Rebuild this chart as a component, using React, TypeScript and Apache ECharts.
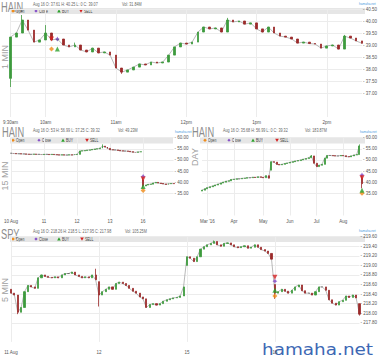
import React, { useEffect, useRef } from 'react';
import * as echarts from 'echarts';

const FONT = 'Liberation Sans, Arial, sans-serif';
const AXFONT = 'Liberation Sans Narrow, Liberation Sans, Arial, sans-serif';

// ---------- Panel 1: HAIN 1 MIN (read every ~5 minutes) ----------
const hain1TickIdx = [0, 6, 18, 30, 42, 54];
const hain1TickText = ['9:30am', '10am', '11am', '12pm', '1pm', '2pm'];
const hain1YTicks = [37, 37.5, 38, 38.5, 39, 39.5, 40, 40.5];
const hain1Close = [
  39.33, 39.5, 40.04, 39.62, 39.12, 39.21, 39.5, 39.21, 39.25, 39.0,
  38.92, 39.0, 38.79, 38.71, 38.87, 38.67, 38.71, 38.58, 38.04, 37.87,
  37.96, 38.08, 38.21, 38.17, 38.29, 38.25, 38.29, 38.58, 38.92, 39.08,
  39.04, 39.12, 39.54, 39.75, 39.67, 39.71, 39.54, 40.04, 39.96, 40.0,
  39.87, 39.92, 39.67, 39.54, 39.75, 39.5, 39.37, 39.33, 39.25, 39.08,
  39.12, 39.06, 39.04, 38.87, 38.96, 39.0, 38.83, 39.37, 39.29, 39.17,
  39.07,
];
const hain1Open: Record<number, number> = { 0: 37.61 };
const hain1High: Record<number, number> = { 2: 40.25, 6: 39.83, 11: 39.1, 37: 40.13, 57: 39.42 };
const hain1Low: Record<number, number> = { 0: 37.25, 19: 37.8 };
const hain1Breaks: number[] = [];
const hain1MarkOpen = [[7, 38.83]];
const hain1MarkClose = [[8, 39.25]];
const hain1MarkBuy = [[8, 38.83]];
const hain1MarkSell = [[7, 39.25]];

// ---------- Panel 2: HAIN 15 MIN ----------
const hain15TickIdx = [0, 13, 26, 39, 52];
const hain15TickText = ['10 Aug', '11', '12', '13', '16'];
const hain15YTicks = [35, 40, 45, 50, 55, 60];
const hain15Close = [
  53.0, 52.9, 52.8, 52.8, 52.7, 52.7, 52.6, 52.5, 52.5, 52.6,
  52.5, 52.5, 52.4, 52.5, 52.5, 52.4, 52.5, 52.4, 52.3, 52.2,
  52.3, 52.2, 52.2, 52.3, 52.2, 52.4, 52.5, 54.0, 54.1, 54.2,
  54.4, 54.5, 54.7, 54.9, 55.0, 55.3, 56.2, 55.8, 55.2, 54.6,
  54.5, 54.5, 54.3, 54.1, 54.0, 54.0, 53.9, 53.7, 53.5, 53.4,
  53.6, 53.7, 38.3, 38.7, 39.0, 39.1, 39.6, 39.9, 39.6, 39.4,
  39.2, 39.0, 39.3, 39.4, 39.32,
];
const hain15Open: Record<number, number> = { 0: 53.0, 52: 41.0 };
const hain15High: Record<number, number> = { 36: 56.99, 52: 42.0 };
const hain15Low: Record<number, number> = { 52: 37.25 };
const hain15Breaks = [52];
const hain15MarkOpen = [[52, 36.3]];
const hain15MarkClose = [[52, 42.6]];
const hain15MarkBuy = [[52, 38.1]];
const hain15MarkSell = [[52, 41.4]];

// ---------- Panel 3: HAIN DAY ----------
const hainDayTickIdx = [2, 12, 23, 33, 43, 53];
const hainDayTickText = ["Mar '16", 'Apr', 'May', 'Jun', 'Jul', 'Aug'];
const hainDayYTicks = [35, 40, 45, 50, 55, 60];
const hainDayClose = [
  36.4, 37.0, 37.5, 37.9, 38.3, 38.7, 39.1, 39.6, 40.0, 40.4,
  40.6, 41.2, 41.3, 41.5, 41.5, 41.7, 41.8, 42.0, 42.0, 42.2,
  42.1, 42.4, 42.2, 42.0, 42.9, 41.8, 49.2, 49.0, 48.0, 47.8,
  48.0, 48.4, 48.6, 48.9, 49.2, 49.5, 49.7, 50.0, 50.3, 50.6,
  51.0, 51.8, 48.5, 47.0, 47.6, 48.0, 50.8, 52.0, 52.0, 51.9,
  51.8, 51.8, 52.0, 51.9, 51.5, 51.4, 51.8, 52.2, 52.4, 56.3,
  39.32,
];
const hainDayOpen: Record<number, number> = { 0: 36.0, 26: 45.4, 60: 42.0 };
const hainDayHigh: Record<number, number> = { 41: 52.2, 59: 56.99, 60: 43.0 };
const hainDayLow: Record<number, number> = { 60: 37.25 };
const hainDayBreaks = [60];
const hainDayMarkOpen = [[60, 35.0]];
const hainDayMarkClose = [[60, 43.2]];
const hainDayMarkBuy = [[60, 36.4]];
const hainDayMarkSell = [[60, 42.0]];

// ---------- Panel 4: SPY 5 MIN (read every ~15 minutes) ----------
const spyTickIdx = [0, 26, 52, 78];
const spyTickText = ['11 Aug', '12', '15', '16'];
const spyYTicks = [217.8, 218.0, 218.2, 218.4, 218.6, 218.8, 219.0, 219.2, 219.4, 219.6];
const spyClose = [
  218.42, 218.38, 218.02, 218.12, 218.45, 218.58, 218.55, 218.52, 218.74, 218.8,
  218.77, 218.75, 218.74, 218.76, 218.74, 218.8, 218.83, 218.83, 218.86, 218.8,
  218.77, 218.74, 218.76, 218.74, 218.8, 218.7,
  218.38, 218.45, 218.5, 218.55, 218.5, 218.62, 218.65, 218.62, 218.58, 218.52,
  218.46, 218.42, 218.34, 218.3, 218.12, 218.18, 218.2, 218.17, 218.2, 218.25,
  218.28, 218.3, 218.32, 218.33, 218.36, 218.55,
  219.18, 219.15, 219.08, 219.18, 219.34, 219.39, 219.43, 219.46, 219.5, 219.43,
  219.4, 219.46, 219.47, 219.43, 219.39, 219.37, 219.39, 219.41, 219.36, 219.38,
  219.43, 219.38, 219.33, 219.3, 219.25, 219.13,
  218.42, 218.45, 218.5, 218.46, 218.42, 218.48, 218.55, 218.59, 218.47, 218.42,
  218.42, 218.38, 218.45, 218.55, 218.55, 218.48, 218.28, 218.21, 218.17, 218.24,
  218.27, 218.36, 218.33, 218.38, 218.32, 217.98,
];
const spyOpen: Record<number, number> = { 0: 218.5, 26: 218.66, 52: 219.0, 78: 218.6, 103: 218.2 };
const spyHigh: Record<number, number> = { 25: 218.93, 60: 219.52 };
const spyLow: Record<number, number> = { 2: 217.98, 26: 218.14, 78: 218.3, 103: 217.95 };
const spyBreaks: number[] = [];
const spyMarkOpen = [[78, 218.36]];
const spyMarkClose = [[78, 218.67]];
const spyMarkBuy = [[78, 218.48]];
const spyMarkSell = [[78, 218.75]];

// ---------- Texts ----------
const titles = ['HAIN', 'HAIN', 'HAIN', 'SPY'];
const headers = [
  'Aug 16 O: 37.61 H: 40.25 L: 0 C: 39.07',
  'Aug 16 O: 53 H: 56.99 L: 37.25 C: 39.32',
  'Aug 16 O: 35.68 H: 56.99 L: 0 C: 39.32',
  'Aug 16 O: 218.26 H: 218.5 L: 217.95 C: 217.98',
];
const vols = ['Vol: 31.84M', 'Vol: 49.23M', 'Vol: 183.87M', 'Vol: 105.25M'];
const periods = ['1 MIN', '15 MIN', 'DAY', '5 MIN'];
const legendNames = ['Open', 'Close', 'BUY', 'SELL'];

const UP = '#3d9a3d';
const DOWN = '#9a2a2a';
const C_OPEN = '#f08c1a';
const C_CLOSE = '#7b3fc4';
const C_BUY = '#2ca02c';
const C_SELL = '#d42020';

function buildCandles(close: number[], opens: Record<number, number>, highs: Record<number, number>, lows: Record<number, number>) {
  return close.map((c, i) => {
    const o = opens[i] !== undefined ? opens[i] : close[i - 1];
    const hi = Math.max(o, c, highs[i] !== undefined ? highs[i] : -Infinity);
    const lo = Math.min(o, c, lows[i] !== undefined ? lows[i] : Infinity);
    return [o, c, lo, hi];
  });
}

const panels = [
  {
    grid: { left: 10, top: 9, width: 355, height: 108 },
    close: hain1Close, opens: hain1Open, highs: hain1High, lows: hain1Low, breaks: hain1Breaks,
    tickIdx: hain1TickIdx, tickText: hain1TickText, yTicks: hain1YTicks,
    yMin: 36, yMax: 40.5, yStep: 0.5, barWidth: 2.2, xMargin: 3,
    marks: [hain1MarkOpen, hain1MarkClose, hain1MarkBuy, hain1MarkSell],
    head: { titleX: 1, titleY: 7, headY: 4.5, headX: 33, volX: 122, bandX: 10, bandY: 8, bandW: 355, legY: 11, iconX: [13, 36, 59, 81], hamX: 359, hamY: 3.5, perX: 5, perY: 57 },
  },
  {
    grid: { left: 11, top: 137.7, width: 162.6, height: 77.8 },
    close: hain15Close, opens: hain15Open, highs: hain15High, lows: hain15Low, breaks: hain15Breaks,
    tickIdx: hain15TickIdx, tickText: hain15TickText, yTicks: hain15YTicks,
    yMin: 25, yMax: 60, yStep: 5, barWidth: 1.4, xMargin: 3,
    marks: [hain15MarkOpen, hain15MarkClose, hain15MarkBuy, hain15MarkSell],
    head: { titleX: 2, titleY: 132.5, headY: 130, headX: 33, volX: 118, bandX: 10, bandY: 137.5, bandW: 163, legY: 140.2, iconX: [13, 39, 63, 87], hamX: 175, hamY: 132, perX: 5, perY: 176 },
  },
  {
    grid: { left: 202, top: 137.7, width: 162, height: 77.8 },
    close: hainDayClose, opens: hainDayOpen, highs: hainDayHigh, lows: hainDayLow, breaks: hainDayBreaks,
    tickIdx: hainDayTickIdx, tickText: hainDayTickText, yTicks: hainDayYTicks,
    yMin: 25, yMax: 60, yStep: 5, barWidth: 1.8, xMargin: 3,
    marks: [hainDayMarkOpen, hainDayMarkClose, hainDayMarkBuy, hainDayMarkSell],
    head: { titleX: 192, titleY: 132.5, headY: 130, headX: 223, volX: 305, bandX: 200, bandY: 137.5, bandW: 165, legY: 140.2, iconX: [205, 229, 253, 277], hamX: 360, hamY: 132, perX: 195, perY: 157 },
  },
  {
    grid: { left: 11, top: 236.7, width: 354, height: 105.2 },
    close: spyClose, opens: spyOpen, highs: spyHigh, lows: spyLow, breaks: spyBreaks,
    tickIdx: spyTickIdx, tickText: spyTickText, yTicks: spyYTicks,
    yMin: 217.4, yMax: 219.6, yStep: 0.2, barWidth: 1.6, xMargin: 8,
    marks: [spyMarkOpen, spyMarkClose, spyMarkBuy, spyMarkSell],
    head: { titleX: 1, titleY: 234, headY: 231, headX: 33, volX: 125, bandX: 10, bandY: 236, bandW: 355, legY: 239, iconX: [13, 36, 59, 82], hamX: 359, hamY: 231, perX: 5, perY: 290 },
  },
];

const SX = 0.72;

function txt(x: number, y: number, text: string, fs: number, fill: string, extra: any = {}) {
  return {
    type: 'text',
    x,
    y,
    scaleX: extra.sx !== undefined ? extra.sx : SX,
    rotation: extra.rotation || 0,
    silent: true,
    style: {
      text,
      fontSize: fs,
      fontFamily: extra.family || FONT,
      fill,
      align: extra.align || 'left',
      textAlign: extra.align || 'left',
      verticalAlign: 'middle',
      textVerticalAlign: 'middle',
    },
  };
}

function icon(kind: number, cx: number, cy: number, s: number) {
  if (kind === 0) {
    return { type: 'polygon', silent: true, shape: { points: [[cx, cy - s], [cx + s, cy], [cx, cy + s], [cx - s, cy]] }, style: { fill: C_OPEN } };
  }
  if (kind === 1) {
    const a = s * 0.35;
    return { type: 'polygon', silent: true, shape: { points: [[cx, cy - s], [cx + a, cy - a], [cx + s, cy], [cx + a, cy + a], [cx, cy + s], [cx - a, cy + a], [cx - s, cy], [cx - a, cy - a]] }, style: { fill: C_CLOSE } };
  }
  if (kind === 2) {
    return { type: 'polygon', silent: true, shape: { points: [[cx, cy - s], [cx + s, cy + s * 0.8], [cx - s, cy + s * 0.8]] }, style: { fill: C_BUY } };
  }
  return { type: 'polygon', silent: true, shape: { points: [[cx, cy + s], [cx + s, cy - s * 0.8], [cx - s, cy - s * 0.8]] }, style: { fill: C_SELL } };
}

const STAR = 'path://M0,-10L3.5,-3.5L10,0L3.5,3.5L0,10L-3.5,3.5L-10,0L-3.5,-3.5Z';

function buildOption() {
  const grid: any[] = [];
  const xAxis: any[] = [];
  const yAxis: any[] = [];
  const series: any[] = [];
  const graphic: any[] = [];

  panels.forEach((p, i) => {
    grid.push({ ...p.grid });
    const cats = p.close.map((_, k) => String(k));
    const showIdx = (idx: number) => p.tickIdx.indexOf(idx) >= 0;
    xAxis.push({
      type: 'category',
      gridIndex: i,
      data: cats,
      boundaryGap: false,
      axisLine: { show: false },
      axisTick: { show: false },
      axisLabel: {
        interval: (idx: number) => showIdx(idx),
        formatter: (_v: string, idx: number) => {
          const t = p.tickIdx.indexOf(idx);
          return t >= 0 ? p.tickText[t] : '';
        },
        fontSize: 4.5,
        color: '#555',
        fontFamily: AXFONT,
        margin: p.xMargin,
      },
      splitLine: { show: true, interval: (idx: number) => showIdx(idx), lineStyle: { color: '#ececec', width: 1 } },
    });
    const lowest = p.yTicks[0];
    yAxis.push({
      type: 'value',
      gridIndex: i,
      position: 'right',
      min: p.yMin,
      max: p.yMax,
      interval: p.yStep,
      axisLine: { show: false },
      axisTick: { show: false },
      splitLine: { show: false },
      axisLabel: {
        formatter: (v: number) => (v < lowest - 1e-6 ? '' : '- ' + v.toFixed(2)),
        fontSize: 4.5,
        color: '#555',
        fontFamily: AXFONT,
        margin: 1,
      },
    });
    // thin connecting trace through the closes; broken at gap opens
    series.push({
      type: 'line',
      xAxisIndex: i,
      yAxisIndex: i,
      data: p.close.map((c, k) => (p.breaks.indexOf(k) >= 0 ? '-' : c)),
      symbol: 'none',
      connectNulls: false,
      lineStyle: { color: '#8a8a8a', width: 0.6 },
      z: 1,
      markLine: {
        silent: true,
        symbol: ['none', 'none'],
        label: { show: false },
        lineStyle: { color: '#ececec', width: 1, type: 'solid' },
        data: p.yTicks.map((v) => ({ yAxis: v })),
        z: 0,
      },
    });
    series.push({
      type: 'candlestick',
      xAxisIndex: i,
      yAxisIndex: i,
      data: buildCandles(p.close, p.opens, p.highs, p.lows),
      barWidth: p.barWidth,
      z: 2,
      itemStyle: { color: UP, color0: DOWN, borderColor: UP, borderColor0: DOWN, borderColorDoji: '#666', borderWidth: 0.8 },
    });
    const markDefs = [
      { name: 'Open', symbol: 'diamond', color: C_OPEN, rot: 0 },
      { name: 'Close', symbol: STAR, color: C_CLOSE, rot: 0 },
      { name: 'BUY', symbol: 'triangle', color: C_BUY, rot: 0 },
      { name: 'SELL', symbol: 'triangle', color: C_SELL, rot: 180 },
    ];
    markDefs.forEach((m, k) => {
      series.push({
        type: 'scatter',
        name: m.name,
        xAxisIndex: i,
        yAxisIndex: i,
        data: p.marks[k],
        symbol: m.symbol,
        symbolSize: 5,
        symbolRotate: m.rot,
        itemStyle: { color: m.color },
        z: 5,
      });
    });

    const h = p.head;
    graphic.push({ type: 'rect', silent: true, shape: { x: h.bandX, y: h.bandY, width: h.bandW, height: 6 }, style: { fill: '#e6e6e6' }, z: -1 });
    graphic.push(txt(h.titleX, h.titleY, titles[i], 14, '#8c8c8c', { sx: 0.66 }));
    graphic.push(txt(h.headX, h.headY, headers[i], 5.2, '#666'));
    graphic.push(txt(h.volX, h.headY, vols[i], 5.2, '#666'));
    graphic.push(txt(h.hamX, h.hamY, 'hamaha.net', 4.4, '#4a9ae0'));
    graphic.push(txt(h.perX, h.perY, periods[i], 9, '#a0a0a0', { rotation: Math.PI / 2, align: 'center', sx: 1, family: FONT }));
    legendNames.forEach((n, k) => {
      graphic.push(icon(k, h.iconX[k], h.legY, 1.8));
      graphic.push(txt(h.iconX[k] + 3, h.legY, n, 4.8, '#444'));
    });
  });

  graphic.push({
    type: 'text',
    x: 262,
    y: 349.5,
    silent: true,
    style: { text: 'hamaha.net', fontSize: 16, fontFamily: 'DejaVu Sans, sans-serif', fill: '#3d68b4', align: 'left', textAlign: 'left', verticalAlign: 'middle', textVerticalAlign: 'middle' },
    scaleX: 1.15,
  });

  return {
    animation: false,
    backgroundColor: '#ffffff',
    grid,
    xAxis,
    yAxis,
    series,
    graphic,
  };
}

export default function App() {
  const ref = useRef<HTMLDivElement>(null);
  useEffect(() => {
    const chart = echarts.init(ref.current!, null, { renderer: 'svg' });
    chart.setOption(buildOption() as any);
    return () => chart.dispose();
  }, []);
  return <div ref={ref} style={{ position: 'fixed', left: 0, top: 0, width: 380, height: 358, background: '#fff' }} />;
}
